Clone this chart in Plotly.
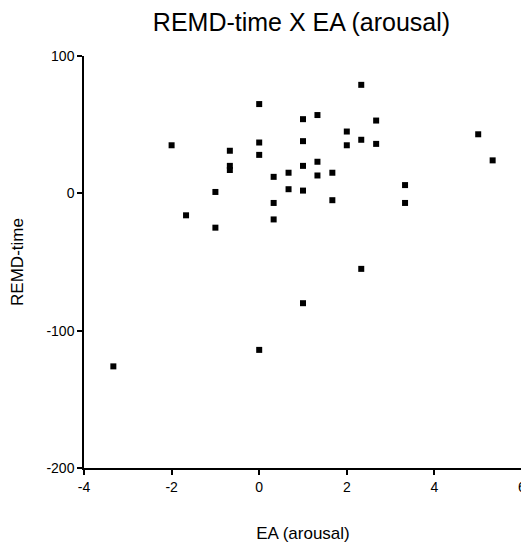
import plotly.graph_objects as go

# EA (arousal) values and REMD-time values
ea = [-2.0, -1.67, -1.0, -1.0, -0.67, -0.67, -0.67, 0.0, 0.0, 0.0,
      0.33, 0.33, 0.33, 0.67, 0.67,
      2.33, 1.0, 1.33, 2.67, 2.0, 1.0, 2.33, 2.0, 2.67, 1.0,
      1.33, 1.33, 1.67, 1.0, 1.67, 3.33, 3.33, 5.0, 5.33,
      -3.33, 0.0, 2.33, 1.0]
remd = [35, -16, 1, -25, 31, 20, 17, 65, 37, 28,
        12, -7, -19, 15, 3,
        79, 54, 57, 53, 45, 38, 39, 35, 36, 20,
        23, 13, 15, 2, -5, 6, -7, 43, 24,
        -126, -114, -55, -80]

x_ticks = [-4, -2, 0, 2, 4, 6]
y_ticks = [-200, -100, 0, 100]

font_family = "Liberation Sans, Arial, sans-serif"

# the page body has an 8px default margin; the figure is sized so the page
# fits inside the 529x551 window without scrollbars
W, H = 521, 535

fig = go.Figure(
    go.Scatter(
        x=ea, y=remd, mode="markers",
        marker=dict(symbol="square", size=6, color="black", line=dict(width=0)),
        showlegend=False,
    )
)

axis_common = dict(
    showline=True, linecolor="black", linewidth=1.5,
    ticks="outside", ticklen=5, tickwidth=1.5, tickcolor="black",
    showgrid=False, zeroline=False, mirror=False,
    automargin=False, ticklabeloverflow="allow",
    tickfont=dict(family=font_family, size=14, color="black"),
)

fig.update_layout(
    width=W, height=H,
    margin=dict(l=76, r=7, t=48, b=75),
    paper_bgcolor="white", plot_bgcolor="white",
    font=dict(family=font_family, color="black"),
    title=dict(
        text="REMD-time X EA (arousal)",
        font=dict(family=font_family, size=25, color="black"),
        x=293.5 / W, xanchor="center", xref="container",
        y=1 - 14 / H, yanchor="middle", yref="container",
    ),
    xaxis=dict(
        range=[-4, 6], tickvals=x_ticks, ticktext=[str(v) for v in x_ticks],
        title=dict(text="EA (arousal)", font=dict(family=font_family, size=17, color="black"),
                   standoff=34),
        **axis_common,
    ),
    yaxis=dict(
        range=[-200, 100], tickvals=y_ticks, ticktext=[str(v) for v in y_ticks],
        title=dict(text="REMD-time", font=dict(family=font_family, size=17, color="black"),
                   standoff=28),
        **axis_common,
    ),
)

fig.write_html("out.html")
